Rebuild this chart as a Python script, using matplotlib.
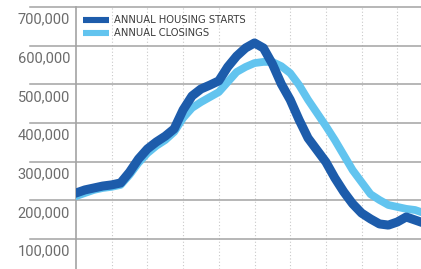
#!/usr/bin/env python3
# annual housing starts vs annual closings, two thick lines over a light grid
import matplotlib
matplotlib.use('Agg')
import matplotlib.pyplot as plt
from matplotlib.lines import Line2D
from matplotlib.transforms import blended_transform_factory

# quarterly steps, x in years from the left axis
years = [i * 0.25 for i in range(40)]
starts = [219, 227, 232, 237, 240, 245, 273, 307, 333, 351,
          366, 385, 434, 470, 488, 498, 509, 545, 573, 594,
          607, 594, 553, 501, 460, 408, 361, 330, 299, 258,
          222, 191, 167, 152, 139, 136, 144, 157, 149, 141]
closings = [211, 219, 227, 232, 235, 240, 266, 297, 322, 341,
            356, 377, 413, 439, 454, 467, 480, 506, 532, 545,
            555, 558, 558, 547, 529, 498, 460, 426, 392, 356,
            317, 278, 247, 216, 201, 188, 183, 178, 175, 167]
starts = [v * 1000 for v in starts]
closings = [v * 1000 for v in closings]
yticks = [100000, 200000, 300000, 400000, 500000, 600000, 700000]
labels = ['ANNUAL HOUSING STARTS', 'ANNUAL CLOSINGS']

dark = '#1d5cab'
light = '#62c4ef'
gridc = '#a3a3a3'

W, H = 421, 269
fig = plt.figure(figsize=(W / 100, H / 100), dpi=100)
ax = fig.add_axes([76 / W, 0, 345 / W, 262 / H])
ax.set_xlim(0, 345 / 35.7)
ax.set_ylim(700000 - 262 / 38.67 * 100000, 700000)
ax.set_axis_off()

#%% grid
for v in yticks:
    ax.axhline(v, xmin=-46 / 345, xmax=1, color=gridc, lw=1.1, clip_on=False, zorder=1)
for k in range(1, 10):
    ax.axvline(k, color='#c9c9c9', lw=0.8, ls=(0, (1, 2)), zorder=0)
ax.axvline(0, color=gridc, lw=1.2, clip_on=False, zorder=1)

tr = blended_transform_factory(ax.transAxes, ax.transData)
for v in yticks:
    ax.text(-6 / 345, v - 33000, '{:,}'.format(v), transform=tr, ha='right', va='center',
            fontsize=10.5, family='Roboto', color='#6c6c6c')

#%% data
ax.plot(years, closings, color=light, lw=5.6, solid_joinstyle='round', zorder=3)
ax.plot(years, starts, color=dark, lw=6.5, solid_joinstyle='round', zorder=4)

handles = [Line2D([], [], color=dark, lw=4.4, solid_capstyle='butt'),
           Line2D([], [], color=light, lw=4.4, solid_capstyle='butt')]
leg = ax.legend(handles, labels, loc='upper left', bbox_to_anchor=(83 / W, 1 - 15 / H),
                bbox_transform=fig.transFigure, frameon=False, borderpad=0, borderaxespad=0,
                handlelength=2.6, handletextpad=0.5, labelspacing=0.35,
                prop={'family': ['Liberation Sans Narrow', 'DejaVu Sans'], 'size': 7.2})
for t in leg.get_texts():
    t.set_color('#3c3c3c')

fig.savefig('out.png', dpi=100)
